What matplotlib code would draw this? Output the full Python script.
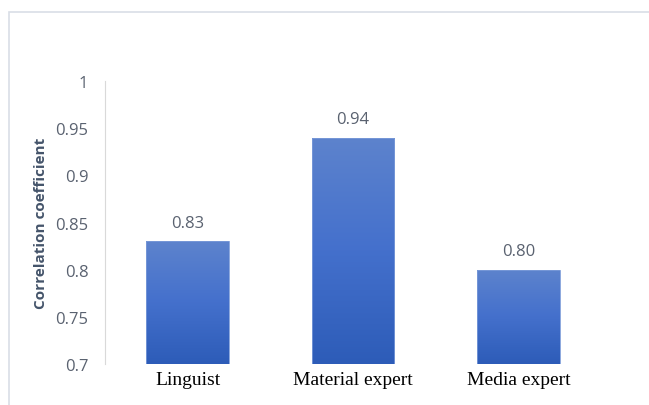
import matplotlib.pyplot as plt
import numpy as np
from matplotlib.patches import Rectangle
from matplotlib.colors import LinearSegmentedColormap

categories = ['Linguist', 'Material expert', 'Media expert']
values = [0.83, 0.94, 0.80]
labels = ['0.83', '0.94', '0.80']
yticks = [0.7, 0.75, 0.8, 0.85, 0.9, 0.95, 1.0]
yticklabels = ['0.7', '0.75', '0.8', '0.85', '0.9', '0.95', '1']

fig = plt.figure(figsize=(6.49, 4.06), dpi=100)
ax = fig.add_axes([0.1618, 0.101, 0.7642, 0.697])

# outer chart frame
fig.patches.append(Rectangle((9 / 649, -0.05), 1.1, 1 - 13 / 406 + 0.05,
                             transform=fig.transFigure, fill=False,
                             edgecolor='#d9dee6', lw=1.2))

x = np.arange(len(categories))
bars = ax.bar(x, values, width=0.5, bottom=0, color='none', edgecolor='#7a9ad8', lw=0.6, zorder=3)

grad = LinearSegmentedColormap.from_list('g', ['#2d5cb8', '#4470cc', '#5d83cd'])
img = np.linspace(0, 1, 256).reshape(-1, 1)
for b in bars:
    x0, w, h = b.get_x(), b.get_width(), b.get_height()
    im = ax.imshow(img, cmap=grad, aspect='auto', origin='lower',
                   extent=[x0, x0 + w, 0.7, h], zorder=2)
    im.set_clip_path(b)

for xi, v, lab in zip(x, values, labels):
    ax.text(xi, v + 0.011, lab, ha='center', va='bottom', fontsize=12,
            color='#5a6270', family='Open Sans')

ax.set_xlim(-0.5, 2.5)
ax.set_ylim(0.7, 1.0)
ax.set_yticks(yticks)
ax.set_yticklabels(yticklabels, fontsize=12, color='#5a6270', family='Open Sans')
ax.set_xticks(x)
ax.set_xticklabels(categories, fontsize=14, family='Liberation Serif', color='black')
ax.tick_params(axis='both', length=0)
ax.tick_params(axis='y', pad=12)
ax.tick_params(axis='x', pad=5)

for s in ['top', 'right', 'bottom']:
    ax.spines[s].set_visible(False)
ax.spines['left'].set_color('#d9d9d9')

ax.set_ylabel('Correlation coefficient', fontsize=11, fontweight='bold',
              color='#44546a', family='Open Sans', labelpad=5)

fig.savefig('out.png', dpi=100)
